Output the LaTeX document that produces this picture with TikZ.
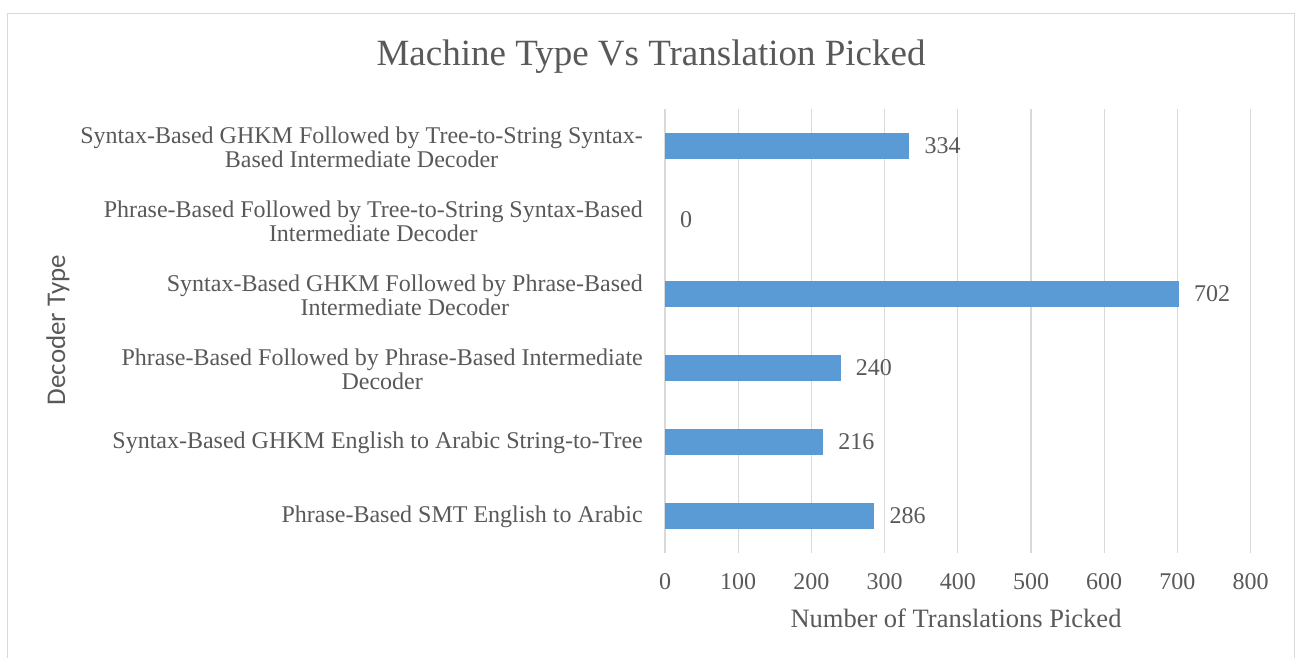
\documentclass[tikz,border=0pt]{standalone}
\usepackage{fontspec}
\setmainfont{Liberation Serif}
\newfontfamily\axisfont{Carlito}
\definecolor{txt}{HTML}{595959}
\definecolor{grid}{HTML}{D9D9D9}
\definecolor{barblue}{HTML}{5B9BD5}
\begin{document}
\begin{tikzpicture}[x=1pt,y=-1pt,
  cat/.style={anchor=east,align=center,text=txt,font=\fontsize{24}{24}\selectfont,inner sep=0pt},
  val/.style={anchor=west,text=txt,font=\fontsize{24}{26}\selectfont,inner sep=0pt},
  tick/.style={anchor=center,text=txt,font=\fontsize{24}{26}\selectfont,inner sep=0pt},
  bar/.style={fill=barblue,draw=none},
  gridline/.style={draw=grid,line width=1.3pt}]
\useasboundingbox (0,0) rectangle (1299,657);
\fill[white] (0,0) rectangle (1299,657);
% chart frame (open at the bottom edge of the page)
\draw[grid,line width=1.6pt] (7.5,670) -- (7.5,13.5) -- (1294.5,13.5) -- (1294.5,670);
% title
\node[text=txt,font=\fontsize{37}{40}\selectfont] (title) at (651,57) {Machine Type Vs Translation Picked};
% vertical gridlines and tick labels (0..800, 73.2 px per 100)
\foreach \v [count=\i from 0] in {0,100,...,800}{
  \draw[gridline] ({665+0.732*\v},109) -- ({665+0.732*\v},553);
  \node[tick] (t\i) at ({665+0.732*\v},582) {\v};
}
% bars
\foreach \v/\y/\n in {334/146/a,0/220/b,702/294/c,240/368/d,216/442/e,286/516/f}{
  \ifnum\v>0
    \fill[bar] (665,{\y-13}) rectangle ({665+0.732*\v},{\y+13});
  \fi
  \coordinate (end\n) at ({665+0.732*\v},\y);
  \node[val] (lab\n) at ([xshift=15pt]end\n) {\v};
}
% category labels
\node[cat] (ca) at (643,147) {Syntax-Based GHKM Followed by Tree-to-String Syntax-\\Based Intermediate Decoder};
\node[cat] (cb) at (643,221) {Phrase-Based Followed by Tree-to-String Syntax-Based\\Intermediate Decoder};
\node[cat] (cc) at (643,295) {Syntax-Based GHKM Followed by Phrase-Based\\Intermediate Decoder};
\node[cat] (cd) at (643,369) {Phrase-Based Followed by Phrase-Based Intermediate\\Decoder};
\node[cat] (ce) at (643,443) {Syntax-Based GHKM English to Arabic String-to-Tree};
\node[cat] (cf) at (643,517) {Phrase-Based SMT English to Arabic};
% axis titles
\node[text=txt,font=\fontsize{26.5}{28}\selectfont] (xt) at (956,618) {Number of Translations Picked};
\node[text=txt,font=\axisfont\fontsize{27}{30}\selectfont,rotate=90] (yt) at (58,330) {Decoder Type};
\end{tikzpicture}
\end{document}
